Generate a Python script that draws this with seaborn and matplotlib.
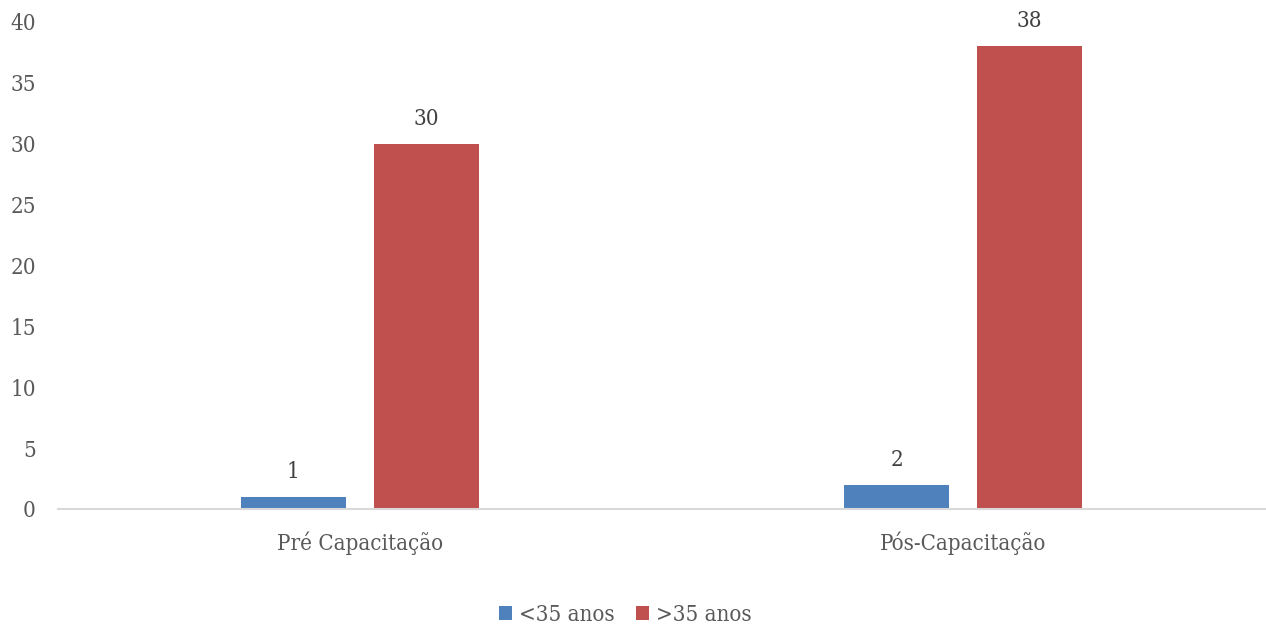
import matplotlib
matplotlib.use("Agg")
import matplotlib.pyplot as plt
import seaborn as sns
import pandas as pd

fases = ["Pré Capacitação", "Pós-Capacitação"]
grupos = ["<35 anos", ">35 anos"]
menos_35 = [1, 2]
mais_35 = [30, 38]
cores = ["#4F81BD", "#C0504D"]
y_ticks = [0, 5, 10, 15, 20, 25, 30, 35, 40]

sns.set_style("white")
plt.rcParams["font.family"] = ["DejaVu Serif"]
plt.rcParams["font.stretch"] = "condensed"

df = pd.DataFrame({
    "fase": fases * 2,
    "grupo": [grupos[0]] * 2 + [grupos[1]] * 2,
    "valor": menos_35 + mais_35,
})

fig = plt.figure(figsize=(12.66, 6.26), dpi=100)
ax = fig.add_axes([0.0458, 0.187, 0.9535, 0.778])

sns.barplot(data=df, x="fase", y="valor", hue="grupo", order=fases,
            hue_order=grupos, palette=cores, width=0.44, gap=0.21,
            saturation=1, linewidth=0, ax=ax, legend=True)

texto = "#595959"
for cont in ax.containers:
    ax.bar_label(cont, fmt="%d", padding=10, fontsize=16, color="#404040")

ax.set_xlim(-0.5, 1.5)
ax.set_ylim(0, 40)
ax.set_yticks(y_ticks)
ax.set_xlabel("")
ax.set_ylabel("")
ax.tick_params(axis="both", length=0, labelsize=16, labelcolor=texto)
ax.tick_params(axis="y", pad=16)
ax.tick_params(axis="x", pad=16)
for s in ["top", "right", "left"]:
    ax.spines[s].set_visible(False)
ax.spines["bottom"].set_color("#D9D9D9")
ax.spines["bottom"].set_linewidth(1.5)

leg = ax.legend(loc="center", bbox_to_anchor=(0.47, -0.218), ncol=2, frameon=False,
                fontsize=16, handlelength=0.6, handleheight=0.6, handletextpad=0.3,
                columnspacing=0.95)
for t in leg.get_texts():
    t.set_color(texto)

fig.savefig("out.png", dpi=100)
